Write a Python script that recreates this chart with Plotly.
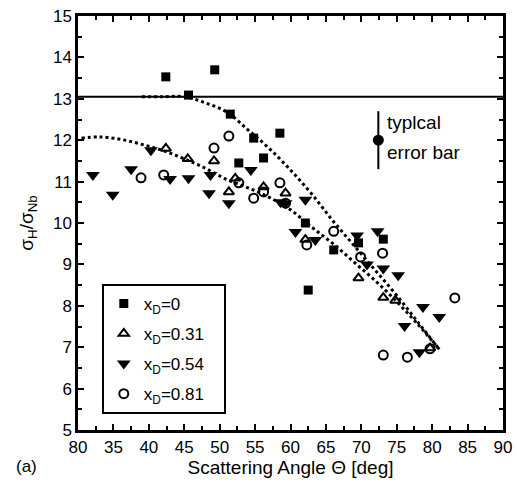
import plotly.graph_objects as go

# ---- data ----
sq_x = [42.4, 49.3, 45.6, 51.5, 58.5, 54.8, 52.7, 56.2, 62.5, 62.1, 66.1, 69.6, 73.1]
sq_y = [13.53, 13.70, 13.09, 12.63, 12.17, 12.05, 11.45, 11.57, 8.38, 10.0, 9.35, 9.52, 9.61]

tri_x = [42.4, 45.5, 49.2, 51.3, 56.2, 59.3, 62.1, 69.6, 73.1, 74.8, 79.7, 52.2]
tri_y = [11.80, 11.55, 11.50, 10.75, 10.87, 10.72, 9.60, 8.67, 8.20, 8.13, 6.98, 11.08]

tdn_x = [32.1, 34.9, 37.5, 40.3, 43.0, 45.6, 48.7, 48.5, 51.3, 62.1, 59.3, 60.7, 63.5,
         69.4, 72.3, 70.8, 73.1, 75.2, 78.7, 81.0, 76.1, 78.2, 54.4, 58.6]
tdn_y = [11.16, 10.68, 11.30, 11.76, 11.06, 11.08, 11.16, 10.72, 10.48, 10.56, 10.48, 9.78, 9.59,
         9.70, 9.80, 9.00, 8.90, 8.74, 7.97, 7.73, 7.51, 6.88, 11.28, 10.50]

cir_x = [38.9, 42.1, 49.2, 51.3, 54.8, 56.2, 58.5, 52.7, 59.3, 62.3, 66.1, 69.9, 73.0,
         83.2, 73.1, 76.5, 79.7]
cir_y = [11.09, 11.16, 11.81, 12.10, 10.60, 10.75, 10.97, 10.97, 10.48, 9.47, 9.80, 9.18, 9.27,
         8.19, 6.81, 6.76, 6.96]

fit0_x = [39, 42, 45, 48, 51, 54, 57, 60, 63, 66, 69, 72, 75, 78, 81]
fit0_y = [13.05, 13.05, 13.05, 12.9, 12.68, 12.25, 11.8, 11.28, 10.7, 10.05, 9.45, 8.85, 8.25, 7.6, 6.95]

fit1_x = [30.5, 33, 36, 39, 42, 45, 48, 51, 54, 57, 60, 63, 66, 69, 72, 75, 78, 81]
fit1_y = [12.05, 12.08, 12.02, 11.9, 11.75, 11.55, 11.32, 11.05, 10.85, 10.62, 10.32, 9.9,
          9.5, 9.05, 8.6, 8.1, 7.55, 6.95]

hline_y = 13.05
err_x = [72.4]
err_y = [12.0]
err_val = [0.7]

legend_names = ["x<sub>D</sub>=0", "x<sub>D</sub>=0.31", "x<sub>D</sub>=0.54", "x<sub>D</sub>=0.81"]

xtick_vals = [30, 35, 40, 45, 50, 55, 60, 65, 70, 75, 80, 85, 90]
xtick_text = ["80", "35", "40", "45", "50", "55", "60", "65", "70", "75", "80", "85", "90"]
ytick_vals = [5, 6, 7, 8, 9, 10, 11, 12, 13, 14, 15]

FONT = "Liberation Sans, Arial, sans-serif"
PAD = "\u00a0" * 3

fig = go.Figure()

fig.add_trace(go.Scatter(x=fit0_x, y=fit0_y, mode="lines", line=dict(color="black", width=3, dash="dot", shape="spline"), showlegend=False, hoverinfo="skip"))
fig.add_trace(go.Scatter(x=fit1_x, y=fit1_y, mode="lines", line=dict(color="black", width=3, dash="dot", shape="spline"), showlegend=False, hoverinfo="skip"))

fig.add_trace(go.Scatter(x=sq_x, y=sq_y, mode="markers", name=legend_names[0], legendgroup="a",
                         marker=dict(symbol="square", size=9, color="black")))
fig.add_trace(go.Scatter(x=tri_x, y=tri_y, mode="markers", name=legend_names[1] + PAD, legendgroup="b",
                         marker=dict(symbol="triangle-up-open", size=9, color="black", line=dict(width=2))))
fig.add_trace(go.Scatter(x=tdn_x, y=tdn_y, mode="markers", name=legend_names[2] + PAD, legendgroup="c",
                         marker=dict(symbol="triangle-down", size=12, color="black")))
fig.add_trace(go.Scatter(x=cir_x, y=cir_y, mode="markers", name=legend_names[3] + PAD, legendgroup="d",
                         marker=dict(symbol="circle-open", size=9, color="black", line=dict(width=2))))

fig.add_trace(go.Scatter(x=err_x, y=err_y, mode="markers", showlegend=False,
                         marker=dict(symbol="circle", size=11, color="black"),
                         error_y=dict(type="data", array=err_val, visible=True, color="black", thickness=2, width=0)))

fig.add_hline(y=hline_y, line=dict(color="black", width=2))

fig.add_annotation(x=73.4, y=12.42, xref="x", yref="y", text="typlcal", showarrow=False,
                   xanchor="left", font=dict(family=FONT, size=19, color="black"))
fig.add_annotation(x=73.4, y=11.7, xref="x", yref="y", text="error bar", showarrow=False,
                   xanchor="left", font=dict(family=FONT, size=19, color="black"))
fig.add_annotation(x=-0.15, y=-0.06, xref="paper", yref="paper", text="(a)", showarrow=False,
                   xanchor="left", yanchor="top", font=dict(family=FONT, size=17, color="black"))

axis_common = dict(showline=True, linecolor="black", linewidth=2.5, mirror="allticks",
                   ticks="inside", ticklen=6, tickwidth=2, tickcolor="black",
                   showgrid=False, zeroline=False, automargin=False,
                   tickfont=dict(family=FONT, size=17, color="black"))

fig.update_xaxes(range=[30, 90], tickvals=xtick_vals, ticktext=xtick_text,
                 minor=dict(ticks="inside", ticklen=4, tickwidth=2, tickcolor="black", dtick=2.5, tick0=30),
                 title=dict(text="Scattering Angle Θ [deg]", font=dict(family=FONT, size=19, color="black"), standoff=5),
                 **axis_common)
fig.update_yaxes(range=[5, 15], tickvals=ytick_vals,
                 minor=dict(ticks="inside", ticklen=4, tickwidth=2, tickcolor="black", dtick=0.5, tick0=5),
                 title=dict(text="σ<sub>H</sub>/σ<sub>Nb</sub>", font=dict(family=FONT, size=19, color="black"), standoff=15),
                 **axis_common)

fig.update_layout(
    width=517, height=494,
    margin=dict(l=78, r=14, t=16, b=64),
    plot_bgcolor="white", paper_bgcolor="white",
    font=dict(family=FONT, color="black"),
    legend=dict(x=0.056, y=0.353, xanchor="left", yanchor="top",
                bgcolor="white", bordercolor="black", borderwidth=2,
                font=dict(family=FONT, size=17, color="black"),
                tracegroupgap=5, itemwidth=30),
)

fig.write_html("out.html", config={"displayModeBar": False},
               post_script="document.body.style.margin='0';document.body.style.overflow='hidden';")
